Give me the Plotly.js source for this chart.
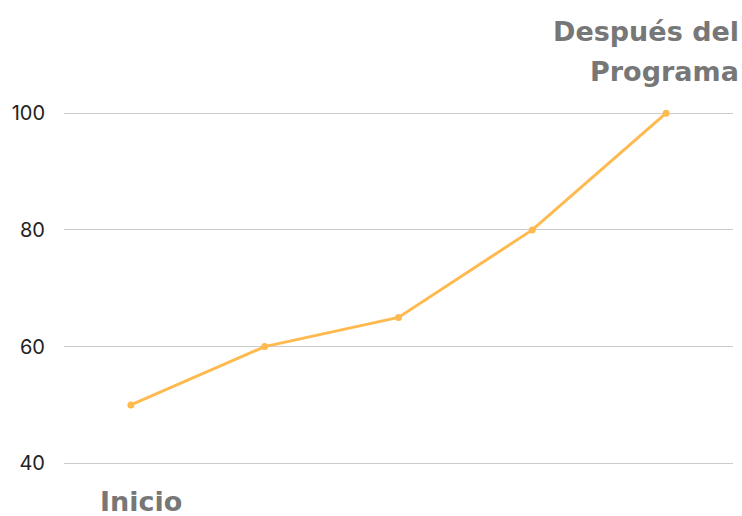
<!DOCTYPE html>
<html>
<head>
<meta charset="utf-8">
<script src="https://cdn.plot.ly/plotly-3.0.1.min.js"></script>
<style>html,body{margin:0;padding:0;background:#fff;}#chart{width:742px;height:516px;}</style>
</head>
<body>
<div id="chart"></div>
<script>
const steps = [0, 1, 2, 3, 4];
const scores = [50, 60, 65, 80, 100];
const yTicks = [40, 60, 80, 100];
const startLabel = 'Inicio';
const endLabelLines = ['Después del', 'Programa'];

const trace = {
  x: steps,
  y: scores,
  type: 'scatter',
  mode: 'lines+markers',
  line: {color: '#FFBA4F', width: 3},
  marker: {color: '#FFBA4F', size: 7},
  hoverinfo: 'skip'
};

const annFont = {family: 'DejaVu Sans, sans-serif', size: 27, color: '#777777'};
const endY = [1.135, 1.033];

const layout = {
  width: 742,
  height: 516,
  margin: {l: 64, r: 9, t: 84, b: 41},
  paper_bgcolor: '#ffffff',
  plot_bgcolor: '#ffffff',
  showlegend: false,
  xaxis: {
    range: [-0.5, 4.5],
    showgrid: false,
    zeroline: false,
    showticklabels: false,
    showline: false,
    fixedrange: true
  },
  yaxis: {
    range: [38, 105],
    tickvals: yTicks,
    ticktext: yTicks.map(String),
    showgrid: true,
    gridcolor: '#cccccc',
    gridwidth: 1,
    zeroline: false,
    showline: false,
    ticks: 'outside',
    ticklen: 14,
    tickcolor: 'rgba(0,0,0,0)',
    tickfont: {family: 'Inter, sans-serif', size: 20, color: '#222222'}
  },
  annotations: [
    {
      text: '<b>' + startLabel + '</b>',
      xref: 'paper', yref: 'paper',
      x: 0.115, y: -0.068,
      xanchor: 'center', yanchor: 'middle',
      showarrow: false,
      font: annFont
    }
  ].concat(endLabelLines.map((t, i) => ({
    text: '<b>' + t + '</b>',
    xref: 'paper', yref: 'paper',
    x: 1.0125, y: endY[i],
    xanchor: 'right', yanchor: 'middle',
    align: 'right',
    showarrow: false,
    font: annFont
  })))
};

Plotly.newPlot('chart', [trace], layout, {displayModeBar: false, staticPlot: true});
</script>
</body>
</html>
